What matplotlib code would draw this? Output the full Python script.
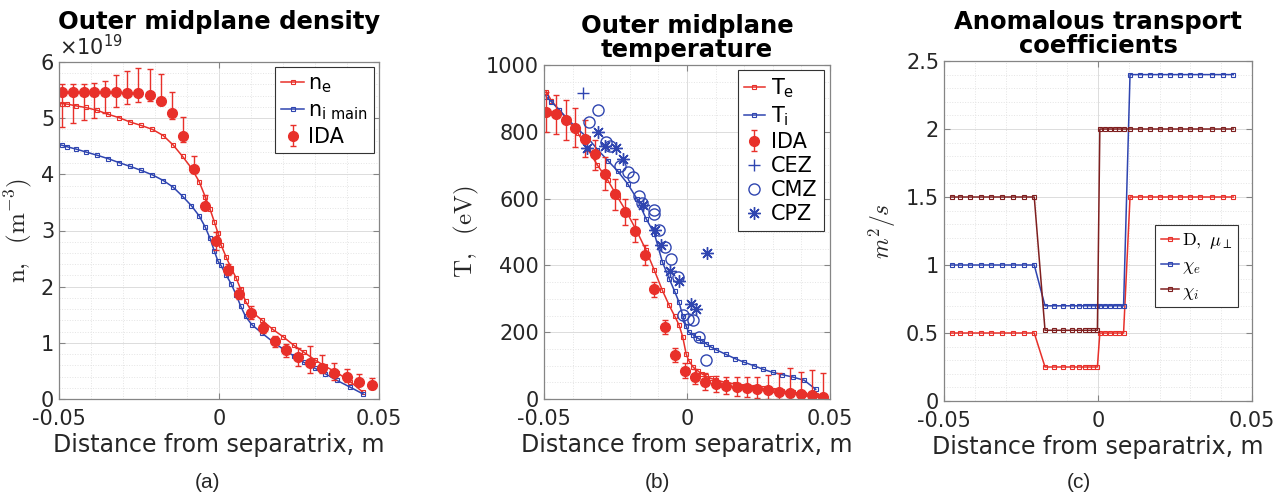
import matplotlib
matplotlib.use("Agg")
import matplotlib.pyplot as plt
from matplotlib.ticker import MultipleLocator
import numpy as np

plt.rcParams['font.family'] = ['DejaVu Sans']
plt.rcParams['mathtext.fontset'] = 'dejavusans'
plt.rcParams['axes.unicode_minus'] = False

# ---------------- data ----------------
x_sim = [-0.0492, -0.0474, -0.0447, -0.0417, -0.0381, -0.0347, -0.0313, -0.0277, -0.0243, -0.0208,
         -0.0174, -0.0143, -0.0114, -0.0086, -0.0062, -0.0043, -0.0028, -0.0015, -0.0003, 0.0006,
         0.0022, 0.0038, 0.0054, 0.0068, 0.0083, 0.0103, 0.0135, 0.0168, 0.0200, 0.0233,
         0.0266, 0.0299, 0.0332, 0.0369, 0.0410, 0.0450]
n_e = [5.26, 5.25, 5.22, 5.19, 5.14, 5.07, 5.01, 4.93, 4.87, 4.80,
       4.69, 4.52, 4.32, 4.11, 3.87, 3.60, 3.38, 3.16, 2.95, 2.75,
       2.53, 2.33, 2.15, 1.95, 1.74, 1.55, 1.40, 1.24, 1.11, 0.96,
       0.83, 0.70, 0.58, 0.47, 0.31, 0.12]
n_i = [4.52, 4.49, 4.45, 4.40, 4.34, 4.28, 4.21, 4.14, 4.07, 3.99,
       3.89, 3.77, 3.61, 3.44, 3.26, 3.06, 2.86, 2.64, 2.45, 2.38,
       2.21, 2.05, 1.85, 1.65, 1.47, 1.32, 1.17, 1.02, 0.89, 0.77,
       0.65, 0.55, 0.45, 0.33, 0.21, 0.09]
T_e = [920, 893, 865, 835, 795, 748, 700, 655, 605, 555,
       500, 445, 385, 325, 280, 248, 222, 186, 135, 115,
       95, 84, 74, 68, 62, 56, 50, 45, 40, 36,
       32, 28, 24, 20, 16, 12]
T_i = [905, 890, 866, 838, 807, 782, 747, 714, 683, 645,
       598, 540, 495, 410, 360, 322, 290, 250, 218, 200,
       192, 182, 174, 165, 156, 147, 134, 121, 110, 100,
       89, 80, 73, 66, 56, 29]

x_ida = [-0.0492, -0.0457, -0.0423, -0.0390, -0.0355, -0.0321, -0.0287, -0.0252, -0.0217, -0.0182,
         -0.0148, -0.0114, -0.0078, -0.0043, -0.0008, 0.0028, 0.0064, 0.0100, 0.0137, 0.0174,
         0.0209, 0.0246, 0.0284, 0.0323, 0.0360, 0.0399, 0.0437, 0.0477]
n_ida = [5.47, 5.47, 5.47, 5.46, 5.46, 5.46, 5.45, 5.44, 5.42, 5.30,
         5.09, 4.68, 4.10, 3.44, 2.82, 2.30, 1.87, 1.53, 1.26, 1.04,
         0.87, 0.74, 0.64, 0.55, 0.46, 0.39, 0.31, 0.25]
n_ida_lo = [4.85, 4.92, 4.97, 5.01, 5.09, 5.20, 5.26, 5.29, 5.31, 5.23,
            4.98, 4.57, 4.02, 3.36, 2.66, 2.21, 1.78, 1.42, 1.17, 0.92,
            0.75, 0.59, 0.47, 0.46, 0.34, 0.31, 0.25, 0.17]
n_ida_hi = [5.61, 5.61, 5.61, 5.62, 5.67, 5.76, 5.84, 5.89, 5.87, 5.78,
            5.47, 5.02, 4.33, 3.63, 2.98, 2.40, 1.97, 1.65, 1.36, 1.13,
            0.98, 0.91, 0.94, 0.78, 0.64, 0.53, 0.44, 0.38]
T_ida = [860, 852, 835, 810, 778, 733, 673, 613, 559, 504,
         431, 328, 216, 132, 85, 65, 52, 45, 40, 37,
         34, 30, 27, 22, 19, 15, 12, 7]
T_ida_lo = [800, 793, 775, 755, 725, 685, 625, 565, 520, 471,
            400, 306, 194, 110, 63, 45, 27, 20, 14, 10,
            6, 2, 0, 0, 0, 0, 0, 0]
T_ida_hi = [920, 910, 895, 870, 835, 775, 725, 660, 600, 538,
            462, 350, 238, 154, 107, 89, 77, 70, 67, 67,
            66, 67, 72, 78, 92, 82, 87, 77]

x_cez = [-0.0365]
T_cez = [917]
x_cmz = [-0.0342, -0.0310, -0.0284, -0.0269, -0.0234, -0.0205, -0.0188, -0.0167, -0.0156, -0.0115,
         -0.0115, -0.0097, -0.0077, -0.0056, -0.0030, -0.0015, 0.0005, 0.0020, 0.0043, 0.0065]
T_cmz = [830, 865, 770, 757, 697, 680, 665, 608, 586, 566,
         554, 506, 456, 418, 366, 251, 241, 237, 187, 117]
x_cpz = [-0.0351, -0.0310, -0.0287, -0.0248, -0.0225, -0.0153, -0.0112, -0.0092, -0.0059, -0.0027,
         0.0014, 0.0031, 0.0071]
T_cpz = [751, 800, 757, 752, 719, 581, 506, 461, 384, 353,
         284, 269, 438]

x_c = [-0.0475, -0.0448, -0.0416, -0.0380, -0.0346, -0.0311, -0.0275, -0.0240, -0.0207,
       -0.0172, -0.0142, -0.0115, -0.0085, -0.0061, -0.0042, -0.0028, -0.0015, -0.0002,
       0.0006, 0.0023, 0.0039, 0.0055, 0.0068, 0.0083,
       0.0104, 0.0136, 0.0169, 0.0201, 0.0234, 0.0266, 0.0299, 0.0331, 0.0369, 0.0407, 0.0439]
D_perp = [0.5] * 9 + [0.25] * 9 + [0.5] * 6 + [1.5] * 11
chi_e = [1.0] * 9 + [0.7] * 15 + [2.4] * 11
chi_i = [1.5] * 9 + [0.52] * 9 + [2.0] * 17

xticks = [-0.05, 0, 0.05]
xticklabels = ['-0.05', '0', '0.05']
yticks_c = [0, 0.5, 1, 1.5, 2, 2.5]
yticklabels_c = ['0', '0.5', '1', '1.5', '2', '2.5']

# ---------------- style ----------------
RED = '#e8302a'
BLUE = '#2f45b0'
DARK = '#7f1f1f'
W, H = 1285, 500

fig = plt.figure(figsize=(W / 100, H / 100), dpi=100)


def px_axes(l, t, r, b):
    return fig.add_axes([l / W, 1 - b / H, (r - l) / W, (b - t) / H])


def style(ax, ymaj, ymin):
    ax.set_xlim(-0.05, 0.05)
    ax.set_xticks(xticks)
    ax.set_xticklabels(xticklabels)
    ax.xaxis.set_minor_locator(MultipleLocator(0.01))
    ax.yaxis.set_major_locator(MultipleLocator(ymaj))
    ax.yaxis.set_minor_locator(MultipleLocator(ymin))
    ax.grid(True, which='major', color='#dcdcdc', lw=0.7, ls='-')
    ax.grid(True, which='minor', color='#e4e4e4', lw=0.7, ls=':')
    ax.set_axisbelow(True)
    for s in ax.spines.values():
        s.set_color('#858585')
        s.set_linewidth(0.9)
    ax.tick_params(which='both', direction='in', colors='#858585', labelcolor='#262626',
                   labelsize=15, top=True, right=True)
    ax.tick_params(which='major', length=4)
    ax.tick_params(axis='x', pad=7)
    ax.tick_params(which='minor', length=0)
    ax.set_xlabel('Distance from separatrix, m', fontsize=17, color='#262626', labelpad=3)


line_kw = dict(lw=1.1, marker='s', ms=2.4, mfc='none', mew=0.8)
err_kw = dict(fmt='o', ms=7, lw=1.0, capsize=2.5, capthick=1.0, elinewidth=1.0)
leg_kw = dict(frameon=True, fancybox=False, edgecolor='#333333', framealpha=1,
              borderaxespad=0, borderpad=0.3)

# ---------------- panel (a) ----------------
ax1 = px_axes(59, 62, 379, 399)
style(ax1, 1, 0.2)
ax1.set_ylim(0, 6)
h1, = ax1.plot(x_sim, n_e, color=RED, label=r'n$_\mathrm{e}$', **line_kw)
h2, = ax1.plot(x_sim, n_i, color=BLUE, label=r'n$_\mathrm{i\ main}$', **line_kw)
ne_arr = np.array(n_ida)
h3 = ax1.errorbar(x_ida, n_ida, yerr=[ne_arr - np.array(n_ida_lo), np.array(n_ida_hi) - ne_arr],
                  color=RED, ecolor=RED, label='IDA', **err_kw)
ax1.set_title('Outer midplane density', fontsize=17.5, fontweight='bold', pad=24)
ax1.text(0.0, 1.008, r'$\times10^{19}$', transform=ax1.transAxes, fontsize=15,
         color='#262626', ha='left', va='bottom')
yl = ax1.set_ylabel(r'$\mathrm{n,}\ \ (\mathrm{m}^{-3})$', fontsize=18, color='#262626', labelpad=5)
yl.set_math_fontfamily('cm')
leg1 = ax1.legend([h1, h2, h3], [r'n$_\mathrm{e}$', r'n$_\mathrm{i\ main}$', 'IDA'],
                  loc='upper right', bbox_to_anchor=(0.985, 0.985), fontsize=15,
                  handlelength=1.1, handletextpad=0.2, labelspacing=0.25, **leg_kw)
leg1.get_frame().set_linewidth(0.8)

# ---------------- panel (b) ----------------
ax2 = px_axes(544, 65, 830, 399)
style(ax2, 200, 50)
ax2.set_ylim(0, 1000)
g1, = ax2.plot(x_sim, T_e, color=RED, **line_kw)
g2, = ax2.plot(x_sim, T_i, color=BLUE, **line_kw)
Te_arr = np.array(T_ida)
g3 = ax2.errorbar(x_ida, T_ida, yerr=[Te_arr - np.array(T_ida_lo), np.array(T_ida_hi) - Te_arr],
                  color=RED, ecolor=RED, **err_kw)
g4, = ax2.plot(x_cez, T_cez, ls='none', marker='+', ms=9, mew=1.0, color=BLUE)
g5, = ax2.plot(x_cmz, T_cmz, ls='none', marker='o', ms=8, mfc='none', mew=1.0, color=BLUE)
g6, = ax2.plot(x_cpz, T_cpz, ls='none', marker=(8, 2, 0), ms=9, mew=1.0, color=BLUE)
ax2.set_title('Outer midplane\ntemperature', fontsize=17.5, fontweight='bold', pad=6,
              linespacing=1.0)
yl = ax2.set_ylabel(r'$\mathrm{T,}\ \ (\mathrm{eV})$', fontsize=18, color='#262626', labelpad=4)
yl.set_math_fontfamily('cm')
leg2 = ax2.legend([g1, g2, g3, g4, g5, g6],
                  [r'T$_\mathrm{e}$', r'T$_\mathrm{i}$', 'IDA', 'CEZ', 'CMZ', 'CPZ'],
                  loc='upper right', bbox_to_anchor=(0.979, 0.985), fontsize=15,
                  handlelength=1.0, handletextpad=0.3, labelspacing=0.2, **leg_kw)
leg2.get_frame().set_linewidth(0.8)

# ---------------- panel (c) ----------------
ax3 = px_axes(944, 61, 1252, 401)
style(ax3, 0.5, 0.1)
ax3.set_ylim(0, 2.5)
ax3.set_yticks(yticks_c)
ax3.set_yticklabels(yticklabels_c)
ax3.plot(x_c, D_perp, color=RED, label=r'$\mathrm{D},\ \mu_\perp$', **line_kw)
ax3.plot(x_c, chi_e, color=BLUE, label=r'$\chi_e$', **line_kw)
ax3.plot(x_c, chi_i, color=DARK, label=r'$\chi_i$', **line_kw)
ax3.set_title('Anomalous transport\ncoefficients', fontsize=17.5, fontweight='bold', pad=6,
              linespacing=1.0)
yl = ax3.set_ylabel(r'$m^2/s$', fontsize=17, color='#262626', labelpad=6)
yl.set_math_fontfamily('cm')
leg3 = ax3.legend(loc='lower right', bbox_to_anchor=(0.955, 0.276), fontsize=13,
                  handlelength=1.0, handletextpad=0.2, labelspacing=0.3, **leg_kw)
leg3.get_frame().set_linewidth(0.8)
for t in leg3.get_texts():
    t.set_math_fontfamily('cm')

# sub-figure labels
for xp, lab in [(207, '(a)'), (657, '(b)'), (1079, '(c)')]:
    fig.text(xp / W, 1 - 483 / H, lab, fontsize=15, ha='center', va='center',
             family='Liberation Sans', color='#262626')

fig.savefig('out.png', dpi=100)
